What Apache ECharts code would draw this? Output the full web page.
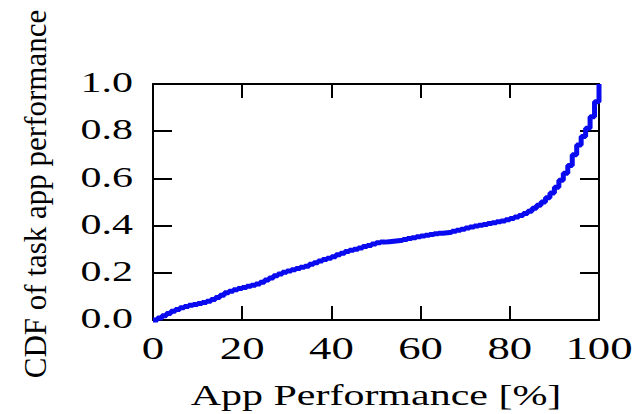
<!DOCTYPE html>
<html>
<head>
<meta charset="utf-8">
<script src="https://cdn.jsdelivr.net/npm/echarts@6/dist/echarts.min.js"></script>
<style>
  html, body { margin: 0; padding: 0; background: #fff; }
  #chart { width: 635px; height: 414px; }
</style>
</head>
<body>
<div id="chart"></div>
<script>
// App performance (%) sampled at every integer percent
const perfPct = [
  0, 1, 2, 3, 4, 5, 6, 7, 8, 9,
  10, 11, 12, 13, 14, 15, 16, 17, 18, 19,
  20, 21, 22, 23, 24, 25, 26, 27, 28, 29,
  30, 31, 32, 33, 34, 35, 36, 37, 38, 39,
  40, 41, 42, 43, 44, 45, 46, 47, 48, 49,
  50, 51, 52, 53, 54, 55, 56, 57, 58, 59,
  60, 61, 62, 63, 64, 65, 66, 67, 68, 69,
  70, 71, 72, 73, 74, 75, 76, 77, 78, 79,
  80, 81, 82, 83, 84, 85, 86, 87, 88, 89,
  90, 91, 92, 93, 94, 95, 96, 97, 98, 99,
  100
];

// Cumulative fraction of tasks at or below each performance level
const cdfVals = [
  0.000, 0.008, 0.018, 0.028, 0.037, 0.045, 0.052, 0.057, 0.062, 0.066,
  0.070, 0.074, 0.079, 0.087, 0.095, 0.105, 0.115, 0.122, 0.128, 0.133,
  0.138, 0.143, 0.147, 0.153, 0.160, 0.169, 0.178, 0.187, 0.195, 0.202,
  0.208, 0.213, 0.218, 0.223, 0.228, 0.236, 0.243, 0.250, 0.256, 0.262,
  0.268, 0.276, 0.283, 0.290, 0.296, 0.300, 0.305, 0.311, 0.316, 0.322,
  0.327, 0.330, 0.332, 0.334, 0.336, 0.338, 0.341, 0.345, 0.349, 0.353,
  0.356, 0.359, 0.362, 0.365, 0.368, 0.370, 0.372, 0.376, 0.380, 0.385,
  0.390, 0.394, 0.398, 0.402, 0.405, 0.409, 0.412, 0.416, 0.420, 0.425,
  0.430, 0.436, 0.443, 0.451, 0.461, 0.473, 0.486, 0.500, 0.518, 0.538,
  0.562, 0.592, 0.622, 0.655, 0.700, 0.742, 0.778, 0.812, 0.861, 0.925,
  1.000
];

// Tick values and their printed labels
const xTicks = [0, 20, 40, 60, 80, 100];
const xTickText = ['0', '20', '40', '60', '80', '100'];
const yTicks = [0, 0.2, 0.4, 0.6, 0.8, 1.0];
const yTickText = ['0.0', '0.2', '0.4', '0.6', '0.8', '1.0'];

const xTitle = 'App Performance [%]';
const yTitle = 'CDF of task app performance';

const SERIF = '"Liberation Serif", "Times New Roman", Times, serif';
const WIDE = 1.4; // horizontal stretch of the upright labels

const frame = { show: true, onZero: false, lineStyle: { color: '#000', width: 2 } };
function xAxisCfg(pos) {
  return {
    type: 'value', position: pos, min: 0, max: 100, interval: 20,
    axisLine: frame,
    axisTick: { show: true, inside: true, length: 14, lineStyle: { color: '#000', width: 2 } },
    axisLabel: { show: false },
    splitLine: { show: false }
  };
}
function yAxisCfg(pos) {
  return {
    type: 'value', position: pos, min: 0, max: 1, interval: 0.2,
    axisLine: frame,
    axisTick: { show: true, inside: true, length: 19, lineStyle: { color: '#000', width: 2 } },
    axisLabel: { show: false },
    splitLine: { show: false }
  };
}

const chart = echarts.init(document.getElementById('chart'), null, { renderer: 'svg' });
chart.setOption({
  animation: false,
  backgroundColor: '#fff',
  grid: { left: 153, right: 36, top: 84, bottom: 94 },
  xAxis: [xAxisCfg('bottom'), xAxisCfg('top')],
  yAxis: [yAxisCfg('left'), yAxisCfg('right')],
  series: [{
    type: 'line',
    step: 'end',
    xAxisIndex: 0,
    yAxisIndex: 0,
    data: perfPct.map((p, i) => [p, cdfVals[i]]),
    showSymbol: false,
    clip: false,
    lineStyle: { color: '#0a0af0', width: 5 }
  }]
});

// Tick labels and axis titles, placed through the axes' own scales
const grid = chart.getModel().getComponent('grid').coordinateSystem.getRect();
function txt(text, size, align) {
  return { text: text, fontSize: size, fontFamily: SERIF, fill: '#000',
           align: align, verticalAlign: 'middle' };
}
const labels = [];
xTicks.forEach((v, i) => {
  const px = chart.convertToPixel({ xAxisIndex: 0 }, v);
  labels.push({
    type: 'text', x: px, y: grid.y + grid.height + 28, scaleX: WIDE,
    style: txt(xTickText[i], 32, 'center')
  });
});
yTicks.forEach((v, i) => {
  const py = chart.convertToPixel({ yAxisIndex: 0 }, v);
  labels.push({
    type: 'text', x: grid.x - 20, y: py - 2, scaleX: WIDE,
    style: txt(yTickText[i], 30, 'right')
  });
});
labels.push({
  type: 'text', x: grid.x + grid.width / 2, y: grid.y + grid.height + 75, scaleX: WIDE,
  style: txt(xTitle, 30, 'center')
});
labels.push({
  type: 'text', x: 35, y: 194, rotation: Math.PI / 2,
  style: txt(yTitle, 31, 'center')
});
chart.setOption({ graphic: labels });
</script>
</body>
</html>
